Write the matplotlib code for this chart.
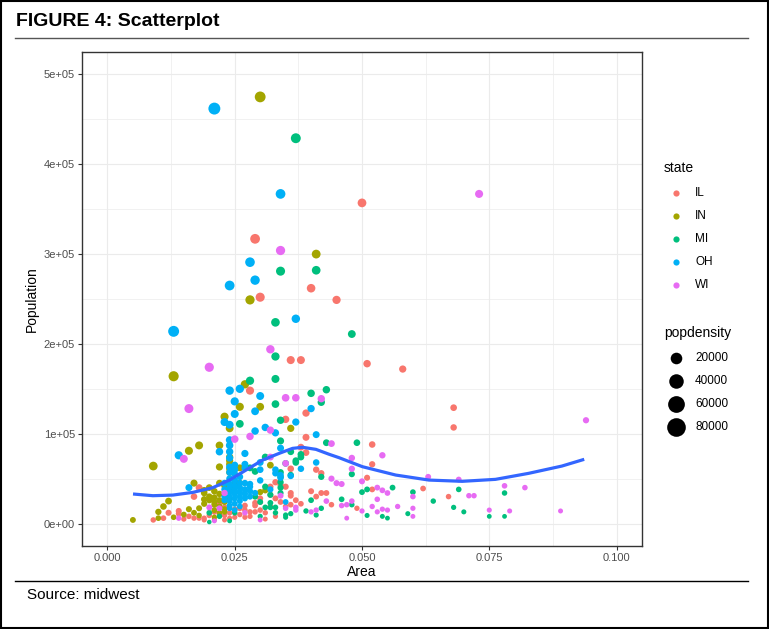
import numpy as np
import matplotlib
matplotlib.use("Agg")
import matplotlib.pyplot as plt
from matplotlib.patches import Rectangle

plt.rcParams["font.family"] = ["Liberation Sans", "DejaVu Sans"]

states = ["IL", "IN", "MI", "OH", "WI"]
state_colors = ["#F8766D", "#A3A500", "#00BF7D", "#00B0F6", "#E76BF3"]

# area in thousandths, poptotal in thousands
il_area = [50, 29, 40, 30, 45, 36, 38, 51, 58, 28, 39, 35, 68, 68,
           39, 38, 39, 41, 42, 41, 42, 43, 44, 52, 52, 51, 52, 62, 67, 49, 36, 35, 36, 32,
           30, 29, 28, 18, 17, 23, 19, 21, 23, 25, 27, 29, 32, 34, 33, 36, 36, 26, 27, 30,
           31, 9, 11, 12, 14, 14, 15, 17, 18, 19,
           16, 20, 22, 24, 26, 28, 31, 33, 24, 25, 22, 30, 33, 29, 35, 37, 32, 27,
           21, 23, 34, 38, 40]
il_pop = [357, 317, 262, 252, 249, 182, 182, 178, 172, 148, 123, 116, 129, 107,
          96, 85, 79, 60, 56, 30, 34, 34, 21, 88, 66, 51, 38, 39, 30, 17, 61, 41, 31, 32,
          24, 23, 13, 40, 30, 9, 4, 4, 4, 7, 15, 13, 41, 43, 46, 34, 21, 17, 7, 15,
          12, 4, 6, 12, 14, 11, 5, 6, 6, 6,
          8, 9, 10, 6, 10, 8, 5, 8, 12, 16, 22, 28, 28, 20, 19, 26, 19, 20,
          13, 18, 24, 22, 36]

in_area = [30, 41, 28, 13, 27, 26, 30, 23, 24, 36,
           22, 18, 16, 24, 9, 22, 26, 32, 17, 12, 11, 16, 10, 10, 5, 13, 19, 18, 20, 21,
           21, 21, 30, 31, 19,
           19, 19, 20, 21, 21, 21, 22, 22, 22, 22, 23, 23, 24, 24, 25, 23, 24, 24, 24, 26, 24,
           15, 17, 18, 23, 20, 22, 25]
in_pop = [475, 300, 249, 164, 155, 130, 130, 119, 106, 106,
          87, 87, 81, 74, 64, 63, 62, 65, 45, 25, 19, 16, 13, 6, 4, 7, 22, 9, 26, 29,
          24, 7, 35, 37, 37,
          34, 27, 30, 36, 21, 15, 33, 26, 19, 12, 24, 16, 40, 28, 45, 42, 66, 61, 70, 45, 57,
          10, 12, 17, 13, 40, 45, 35]

mi_area = [37, 34, 41, 33, 48, 33, 28, 33, 40, 43, 42, 33, 26, 34,
           43, 34, 38, 38, 42, 42, 41, 37, 36, 34, 34, 34, 34, 34, 33, 33, 35, 31, 32, 31,
           29, 31, 29, 30, 32, 32, 35, 28, 35, 37, 36, 20, 20,
           49, 48, 51, 50, 56, 60, 69, 78, 46, 48, 51, 54, 55, 59, 64, 68, 70, 75, 78,
           22, 25, 30, 24, 39, 40, 36]
mi_pop = [429, 281, 282, 224, 211, 186, 159, 161, 145, 149, 135, 133, 111, 115,
          90, 92, 77, 74, 52, 17, 9.5, 70, 80, 57, 52, 46, 40, 34, 18, 12, 7, 18, 18, 74,
          58, 41, 30, 24, 23, 32, 9.5, 62, 67, 68, 54, 12, 1.7,
          90, 55, 38, 35, 40, 35, 38, 34, 27, 21, 9, 8, 6, 11, 25, 18, 13, 8, 8,
          8, 12, 8, 3, 14, 26, 11]

oh_area = [21, 34, 28, 29, 24, 37, 13, 24, 26, 30, 25, 25, 29, 40, 23, 24, 37, 31, 29, 33, 41, 24,
           22, 24, 24, 24, 14, 24, 41, 38, 36, 34, 33, 35, 32, 30, 30, 30, 28, 16, 25, 27,
           27, 33, 34, 34, 27,
           23, 23, 23, 24, 24, 24, 24, 24, 24, 24, 25, 25, 25, 25, 25, 25, 26, 26, 26, 26, 26,
           27, 27, 27, 28, 28, 29,
           24, 25, 26, 23, 27, 25, 26, 24, 25, 28]
oh_pop = [462, 367, 291, 271, 265, 228, 214, 148, 150, 142, 136, 122, 125, 128, 113, 110, 113,
          107, 103, 101, 99, 93,
          80, 87, 80, 73, 76, 63, 68, 61, 53, 84, 60, 24, 38, 68, 60, 48, 41, 40, 65, 66,
          62, 56, 51, 54, 78,
          45, 38, 30, 50, 44, 40, 35, 30, 25, 20, 48, 42, 37, 33, 28, 22, 45, 40, 35, 30, 25,
          38, 33, 28, 36, 30, 34,
          17, 15, 19, 26, 45, 55, 52, 57, 60, 44]

wi_area = [73, 34, 32, 20, 35, 37, 42, 16, 32, 28, 25, 44, 15,
           45, 46, 44, 43, 40, 41, 35, 34, 37, 37, 30, 27, 35, 23, 20, 22, 32,
           94, 48, 54, 48, 50, 63, 69, 53, 54, 55, 60, 71, 72, 78, 82, 46, 47, 48, 50, 52,
           53, 53, 54, 55, 47, 57, 60, 60, 75, 79, 89,
           14, 21]
wi_pop = [367, 304, 194, 174, 140, 140, 139, 128, 104, 97, 94, 89, 72,
          45, 44, 50, 25, 13, 15, 67, 31, 18, 15, 4, 12, 17, 34, 18, 17, 74,
          115, 73, 76, 61, 47, 52, 49, 40, 37, 34, 30, 31, 31, 42, 40, 20, 21, 25, 14, 19,
          27, 13, 16, 15, 6, 19, 17, 8, 15, 14, 14,
          6, 3]

state_area = [il_area, in_area, mi_area, oh_area, wi_area]
state_pop = [il_pop, in_pop, mi_pop, oh_pop, wi_pop]

# loess curve
smooth_area = [0.00502, 0.00893, 0.01285, 0.01677, 0.02069, 0.02396, 0.02723, 0.03049,
               0.03376, 0.03636, 0.03832, 0.04095, 0.04355, 0.04551, 0.05008, 0.05662,
               0.06315, 0.06967, 0.07622, 0.08274, 0.08926, 0.09365]
smooth_pop = [32900, 31000, 31700, 34700, 39900, 48400, 59600, 70700, 78200, 83700, 84900,
              82600, 77100, 73300, 63300, 54000, 48400, 47000, 49200, 55900, 64000, 71500]

size_breaks = [20000, 40000, 60000, 80000]
x_ticks = [0, 0.025, 0.05, 0.075, 0.1]
x_labels = ["0.000", "0.025", "0.050", "0.075", "0.100"]
y_ticks = [0, 1e5, 2e5, 3e5, 4e5, 5e5]
y_labels = ["0e+00", "1e+05", "2e+05", "3e+05", "4e+05", "5e+05"]

W, H, DPI = 769, 629, 100
PD_MIN, PD_MAX = 85.05, 88018.4


def marker_area(pd):
    # ggplot scale_size: area palette, range 1..6
    r = np.clip((np.asarray(pd, dtype=float) - PD_MIN) / (PD_MAX - PD_MIN), 0, 1)
    d_px = (1 + 5 * np.sqrt(r) + 0.55) * 2.95
    return (d_px * 72 / DPI) ** 2


fig = plt.figure(figsize=(W / DPI, H / DPI), dpi=DPI)

# frame overlay in pixel coordinates
fr = fig.add_axes([0, 0, 1, 1], zorder=0)
fr.set_xlim(0, W)
fr.set_ylim(H, 0)
fr.axis("off")
fr.patch.set_alpha(0)

ax = fig.add_axes([82 / W, (H - 546) / H, 560 / W, 494 / H], zorder=1)

for name, color, areas, pops in zip(states, state_colors, state_area, state_pop):
    a = np.array(areas) / 1000.0
    p = np.array(pops) * 1000.0
    popdensity = p / a / 1000.0
    ax.scatter(a, p, s=marker_area(popdensity), color=color, linewidths=0, zorder=2)

ax.plot(smooth_area, smooth_pop, color="#3366FF", lw=2.3, zorder=3, solid_capstyle="butt")

ax.set_xlim(-0.005, 0.105)
ax.set_ylim(-25000, 525000)
ax.set_xticks(x_ticks)
ax.set_xticklabels(x_labels)
ax.set_yticks(y_ticks)
ax.set_yticklabels(y_labels)
ax.set_xticks([0.0125, 0.0375, 0.0625, 0.0875], minor=True)
ax.set_yticks([50000, 150000, 250000, 350000, 450000], minor=True)
ax.grid(which="major", color="#EBEBEB", lw=0.8)
ax.grid(which="minor", color="#EBEBEB", lw=0.5)
ax.set_axisbelow(True)
ax.tick_params(which="major", length=3, width=0.8, color="#333333",
               labelsize=8, labelcolor="#4D4D4D", pad=2)
ax.tick_params(which="minor", length=0)
for sp in ax.spines.values():
    sp.set_color("#333333")
    sp.set_linewidth(1.0)

# titles and captions
fr.add_patch(Rectangle((1, 1), W - 2, H - 2, fill=False, ec="black", lw=1.5))
fr.text(16, 26, "FIGURE 4: Scatterplot", fontsize=14, fontweight="bold", va="baseline")
fr.plot([15, 748], [38, 38], color="#555555", lw=1)
fr.plot([15, 748], [581, 581], color="black", lw=1)
fr.text(27, 599, "Source: midwest", fontsize=11, va="baseline")
fr.text(362, 572, "Area", fontsize=10, ha="center", va="center")
fr.text(32, 299, "Population", fontsize=10, ha="center", va="center", rotation=90)

# legend: state
fr.text(664, 168, "state", fontsize=10, va="center")
for i, (name, color) in enumerate(zip(states, state_colors)):
    y = 193 + i * 23
    fr.scatter([676], [y], s=(6.2 * 72 / DPI) ** 2, color=color, linewidths=0)
    fr.text(695, y, name, fontsize=8.5, va="center")

# legend: popdensity
fr.text(664, 333, "popdensity", fontsize=10, va="center")
for i, b in enumerate(size_breaks):
    y = 358 + i * 23
    fr.scatter([675.5], [y], s=marker_area(b), color="black", linewidths=0)
    fr.text(695, y, str(b), fontsize=8.5, va="center")

fig.savefig("out.png", dpi=DPI)
